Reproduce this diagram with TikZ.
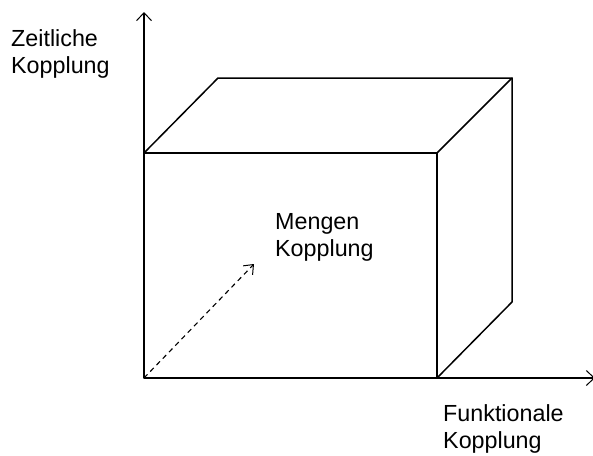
\documentclass[tikz,border=0pt]{standalone}
\usepackage{fontspec}
\setmainfont{Liberation Sans}
\usetikzlibrary{arrows.meta}
\begin{document}
\begin{tikzpicture}[x=1pt,y=-1pt,
  edge/.style={line width=1.5pt, line cap=round, line join=round},
  axis/.style={line width=1.5pt, -{Straight Barb[length=8pt,width=15pt,line width=1pt]}},
  lbl/.style={anchor=base west, inner sep=0pt, font=\fontsize{23.3}{27}\selectfont, align=left}]
\useasboundingbox (0,0) rectangle (593,455);
% cube corners
\coordinate (O) at (144,378);
\coordinate (A) at (437,378);
\coordinate (B) at (437,153);
\coordinate (C) at (144,153);
\coordinate (D) at (218,78);
\coordinate (E) at (512,78);
\coordinate (F) at (512,302);
\coordinate (Ytip) at (144,12);
\coordinate (Xtip) at (595,378);
\coordinate (Ztip) at (254,264);
\draw[edge] (O) -- (A) -- (B) -- (C) -- cycle;
\draw[edge] (C) -- (D) -- (E) -- (B);
\draw[edge] (E) -- (F) -- (A);
\draw[axis] (O) -- (Ytip);
\draw[axis] (O) -- (Xtip);
\draw[line width=1.1pt, dashed, dash pattern=on 5pt off 4pt, -{Straight Barb[length=8pt,width=13pt,line width=1pt]}] (O) -- (Ztip);
\node[lbl] (zl) at (11,73) {Zeitliche\\Kopplung};
\node[lbl] (ml) at (275,256) {Mengen\\Kopplung};
\node[lbl] (fl) at (443,448) {Funktionale\\Kopplung};
\end{tikzpicture}
\end{document}
